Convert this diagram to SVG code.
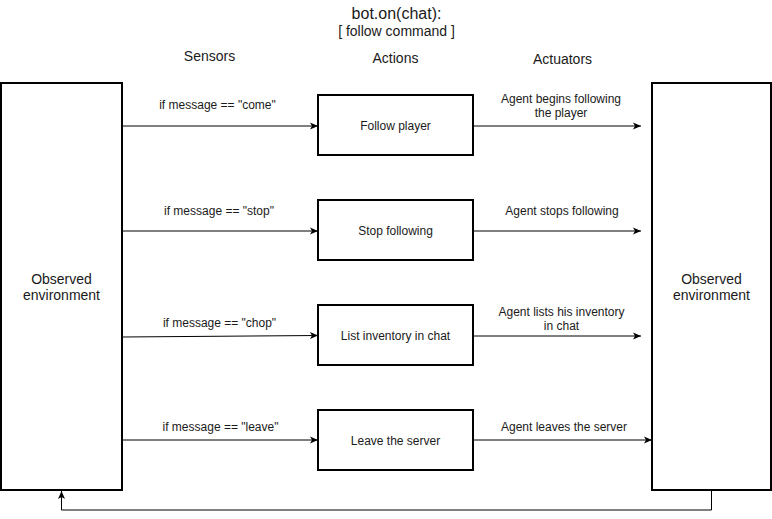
<svg xmlns="http://www.w3.org/2000/svg" width="772" height="519" viewBox="0 0 772 519">
<defs>
<style>
.box{fill:#fff;stroke:#000;stroke-width:2}
.edge{fill:none;stroke:#000;stroke-width:1}
text{font-family:"Liberation Sans",Arial,sans-serif;fill:#1a1a1a;text-anchor:middle}
.t12{font-size:12px}
.t14{font-size:14px}
</style>
<marker id="arr" viewBox="0 0 8 8" refX="8" refY="4" markerWidth="8" markerHeight="8" markerUnits="userSpaceOnUse" orient="auto">
<path d="M0,0.5 L8,4 L0,7.5 L2,4 Z" fill="#000"/>
</marker>
</defs>
<rect width="772" height="519" fill="#fff"/>
<g id="title">
<text x="396.5" y="19" style="font-size:16px">bot.on(chat):</text>
<text x="396.5" y="36" class="t14">[ follow command ]</text>
</g>
<g id="headers">
<text x="209.5" y="61" class="t14">Sensors</text>
<text x="395.5" y="63" class="t14">Actions</text>
<text x="562.5" y="64" class="t14">Actuators</text>
</g>
<g id="connectors">
<path class="edge" d="M122,126 L318,126" marker-end="url(#arr)"/>
<path class="edge" d="M122,231 L318,231" marker-end="url(#arr)"/>
<path class="edge" d="M122,337 L318,335.5" marker-end="url(#arr)"/>
<path class="edge" d="M122,440 L318,440" marker-end="url(#arr)"/>
<path class="edge" d="M473,126 L641,126" marker-end="url(#arr)"/>
<path class="edge" d="M473,231 L641,231" marker-end="url(#arr)"/>
<path class="edge" d="M473,336 L641,336" marker-end="url(#arr)"/>
<path class="edge" d="M473,440 L652,440" marker-end="url(#arr)"/>
<path class="edge" d="M711.5,491 L711.5,510 L61.5,510 L61.5,491" marker-end="url(#arr)"/>
<text x="217.5" y="109" class="t12">if message == "come"</text>
<text x="219" y="215" class="t12">if message == "stop"</text>
<text x="219.5" y="327" class="t12">if message == "chop"</text>
<text x="220.5" y="431" class="t12">if message == "leave"</text>
<text x="561" y="103" class="t12">Agent begins following</text>
<text x="561" y="117" class="t12">the player</text>
<text x="562" y="215" class="t12">Agent stops following</text>
<text x="561.5" y="316" class="t12">Agent lists his inventory</text>
<text x="561.5" y="330" class="t12">in chat</text>
<text x="564" y="431" class="t12">Agent leaves the server</text>
</g>
<g id="env-left">
<rect class="box" x="1" y="83" width="121" height="407"/>
<text x="61.5" y="284" class="t14">Observed</text>
<text x="61.5" y="300" class="t14">environment</text>
</g>
<g id="env-right">
<rect class="box" x="652" y="83" width="119" height="407"/>
<text x="711.5" y="284" class="t14">Observed</text>
<text x="711.5" y="300" class="t14">environment</text>
</g>
<g id="follow">
<rect class="box" x="318" y="95" width="155" height="60"/>
<text x="395.5" y="130" class="t12">Follow player</text>
</g>
<g id="stop">
<rect class="box" x="318" y="200" width="155" height="60"/>
<text x="395.5" y="235" class="t12">Stop following</text>
</g>
<g id="list">
<rect class="box" x="318" y="305" width="155" height="60"/>
<text x="395.5" y="340" class="t12">List inventory in chat</text>
</g>
<g id="leave">
<rect class="box" x="318" y="410" width="155" height="60"/>
<text x="395.5" y="445" class="t12">Leave the server</text>
</g>
</svg>
